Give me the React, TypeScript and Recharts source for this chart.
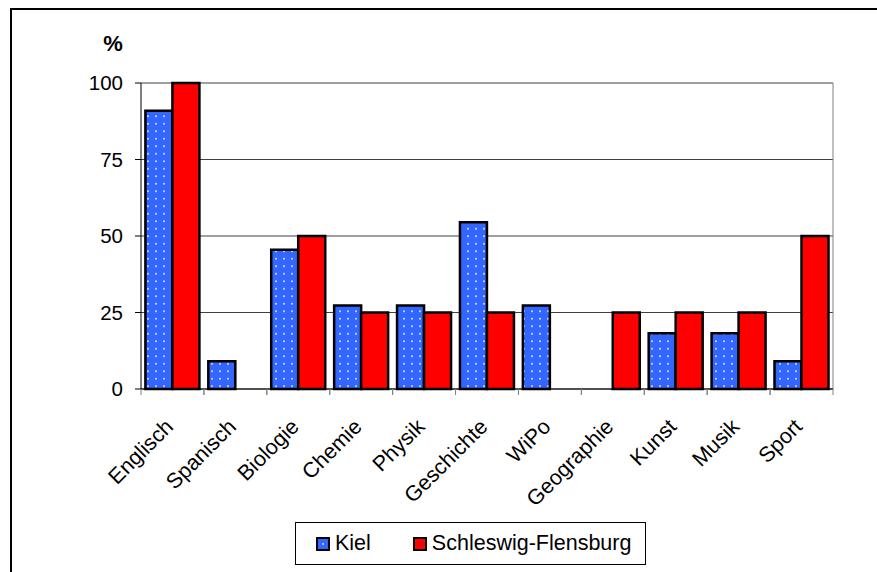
import React from "react";
import {
  BarChart,
  Bar,
  XAxis,
  YAxis,
  CartesianGrid,
  Legend,
} from "recharts";

const categories = [
  "Englisch",
  "Spanisch",
  "Biologie",
  "Chemie",
  "Physik",
  "Geschichte",
  "WiPo",
  "Geographie",
  "Kunst",
  "Musik",
  "Sport",
];
const kiel = [90.9, 9.1, 45.5, 27.3, 27.3, 54.5, 27.3, 0, 18.2, 18.2, 9.1];
const schleswigFlensburg = [100, 0, 50, 25, 25, 25, 0, 25, 25, 25, 50];
const yTicks = [0, 25, 50, 75, 100];

const data = categories.map((name, i) => ({
  name,
  kiel: kiel[i],
  sf: schleswigFlensburg[i],
}));

const FONT = "'Liberation Sans', Arial, sans-serif";

const XTick = (props: any) => {
  const { x, y, payload } = props;
  const half = payload && payload.offset ? payload.offset : 31.45;
  return (
    <g>
      <line x1={x - half} y1={y} x2={x - half} y2={y + 6} stroke="#808080" />
      <line x1={x + half} y1={y} x2={x + half} y2={y + 6} stroke="#808080" />
      <text
        transform={`translate(${x + 2},${y + 39}) rotate(-45)`}
        textAnchor="end"
        fontSize={21.5}
        fontFamily={FONT}
        fill="#000"
      >
        {payload.value}
      </text>
    </g>
  );
};

const LegendBox = () => (
  <div
    style={{
      boxSizing: "border-box",
      width: 351,
      height: 43,
      border: "1px solid #000",
      display: "flex",
      alignItems: "center",
      fontFamily: FONT,
      fontSize: 21.5,
      color: "#000",
      paddingLeft: 20,
      background: "#fff",
    }}
  >
    <svg width={14} height={14} style={{ marginRight: 5 }}>
      <rect x={1} y={1} width={12} height={12} fill="#3366FF" stroke="#000" strokeWidth={2} />
      <circle cx={7} cy={7} r={0.9} fill="#dde6ff" />
    </svg>
    <span>Kiel</span>
    <svg width={14} height={14} style={{ marginLeft: 42, marginRight: 5 }}>
      <rect x={1} y={1} width={12} height={12} fill="#FF0000" stroke="#000" strokeWidth={2} />
    </svg>
    <span>Schleswig-Flensburg</span>
  </div>
);

export default function App() {
  return (
    <div
      style={{
        position: "absolute",
        left: 0,
        top: 0,
        width: 877,
        height: 572,
        overflow: "hidden",
        background: "#fff",
      }}
    >
      <div
        style={{
          position: "absolute",
          left: 10,
          top: 8,
          width: 900,
          height: 600,
          border: "2px solid #000",
        }}
      />
      <div style={{ position: "absolute", left: 0, top: 0 }}>
        <BarChart
          width={877}
          height={572}
          data={data}
          margin={{ top: 83, right: 44, left: 81, bottom: 0 }}
          barCategoryGap="7%"
          barGap={0}
        >
          <defs>
            <pattern id="dots" patternUnits="userSpaceOnUse" width={8} height={7.5}>
              <rect x={0} y={0} width={8} height={7.5} fill="#3366FF" />
              <circle cx={4} cy={3.75} r={1} fill="#e6ecff" />
            </pattern>
          </defs>
          <CartesianGrid vertical={false} stroke="#404040" />
          <CartesianGrid
            horizontal={false}
            stroke="#808080"
            verticalCoordinatesGenerator={({ offset }: any) => [offset.left + offset.width]}
          />
          <XAxis
            dataKey="name"
            interval={0}
            height={140}
            tickLine={false}
            tickSize={0}
            tickMargin={0}
            axisLine={{ stroke: "#000" }}
            tick={<XTick />}
          />
          <YAxis
            width={60}
            domain={[0, 100]}
            ticks={yTicks}
            tickSize={6}
            tickMargin={12}
            axisLine={{ stroke: "#000" }}
            tickLine={{ stroke: "#000" }}
            tick={{ fontSize: 20.5, fill: "#000", fontFamily: FONT }}
            label={{
              content: ({ viewBox }: any) => (
                <text
                  x={viewBox.x + viewBox.width / 2 + 2}
                  y={viewBox.y - 32}
                  textAnchor="middle"
                  fontSize={22}
                  fontWeight="bold"
                  fontFamily={FONT}
                  fill="#000"
                >
                  %
                </text>
              ),
            }}
          />
          <Legend
            verticalAlign="bottom"
            content={<LegendBox />}
            wrapperStyle={{ position: "absolute", left: 295, top: 522, width: 351, height: 43 }}
          />
          <Bar
            dataKey="kiel"
            name="Kiel"
            fill="url(#dots)"
            stroke="#000"
            strokeWidth={2.5}
            isAnimationActive={false}
          />
          <Bar
            dataKey="sf"
            name="Schleswig-Flensburg"
            fill="#FF0000"
            stroke="#000"
            strokeWidth={2.5}
            isAnimationActive={false}
          />
        </BarChart>
      </div>
    </div>
  );
}
